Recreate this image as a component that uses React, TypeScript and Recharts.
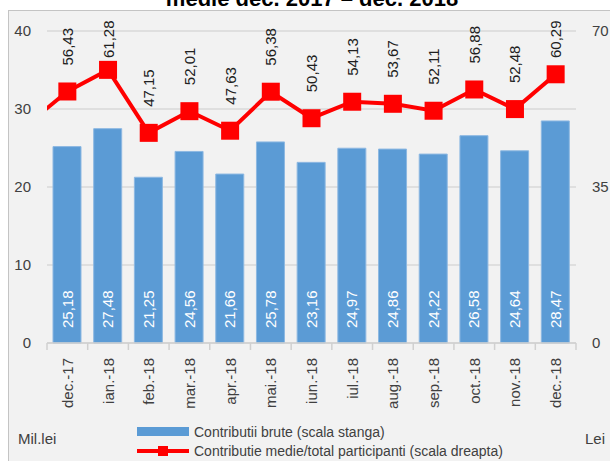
import React from 'react';
import { ComposedChart, Bar, Line, XAxis, YAxis, CartesianGrid, LabelList } from 'recharts';

const months = ['dec.-17', 'ian.-18', 'feb.-18', 'mar.-18', 'apr.-18', 'mai.-18', 'iun.-18', 'iul.-18', 'aug.-18', 'sep.-18', 'oct.-18', 'nov.-18', 'dec.-18'];
const contributiiBrute = [25.18, 27.48, 21.25, 24.56, 21.66, 25.78, 23.16, 24.97, 24.86, 24.22, 26.58, 24.64, 28.47];
const contributieMedie = [56.43, 61.28, 47.15, 52.01, 47.63, 56.38, 50.43, 54.13, 53.67, 52.11, 56.88, 52.48, 60.29];
const prevMonthMedie = 48.9; // nov.-17, off chart: only the segment entering from the left shows
const leftTicks = [0, 10, 20, 30, 40];
const rightTicks = [0, 35, 70];
const titleText = 'medie dec. 2017 \u2013 dec. 2018';
const barSeriesName = 'Contributii brute (scala stanga)';
const lineSeriesName = 'Contributie medie/total participanti (scala dreapta)';
const leftUnit = 'Mil.lei';
const rightUnit = 'Lei';

const data = months.map((m, i) => ({ m, brute: contributiiBrute[i], medie: contributieMedie[i] }));
const extData = [
  { i: -1, v: prevMonthMedie },
  { i: 0, v: contributieMedie[0] },
];

const FONT = '"Liberation Sans", Arial, sans-serif';
const W = 610;
const H = 461;
const LEFT_W = 47;
const RIGHT_W = 34;
const TOP = 31;
const XAXIS_H = 118;
const PLOT_W = W - LEFT_W - RIGHT_W;
const BAND = PLOT_W / months.length;
const TEXT = '#404040';
const BLUE = '#5b9bd5';
const RED = '#ff0000';

const fmt = (v: number) => v.toFixed(2).replace('.', ',');

const XTick = (props: any) => {
  const { x, y, payload, index } = props;
  const ly = y + 15;
  return (
    <g>
      <line x1={x - BAND / 2} x2={x - BAND / 2} y1={y} y2={y + 7} stroke="#d0d0d0" strokeWidth={1.5} />
      {index === months.length - 1 && (
        <line x1={x + BAND / 2} x2={x + BAND / 2} y1={y} y2={y + 7} stroke="#d0d0d0" strokeWidth={1.5} />
      )}
      <text
        x={x}
        y={ly}
        transform={`rotate(-90 ${x} ${ly})`}
        textAnchor="end"
        dominantBaseline="central"
        fontSize={15}
        fontFamily={FONT}
        fill={TEXT}
      >
        {payload.value}
      </text>
    </g>
  );
};

const BarLabel = (p: any) => {
  const { x, y, width, height, value } = p;
  const cx = x + width / 2;
  const by = y + height - 15;
  return (
    <text
      x={cx}
      y={by}
      transform={`rotate(-90 ${cx} ${by})`}
      textAnchor="start"
      dominantBaseline="central"
      fill="#ffffff"
      fontSize={15}
      fontFamily={FONT}
    >
      {fmt(value)}
    </text>
  );
};

const LineLabel = (p: any) => {
  const { x, y, value } = p;
  const by = Math.max(y - 26, 58);
  return (
    <text
      x={x}
      y={by}
      transform={`rotate(-90 ${x} ${by})`}
      textAnchor="start"
      dominantBaseline="central"
      fill="#202020"
      fontSize={15}
      fontFamily={FONT}
    >
      {fmt(value)}
    </text>
  );
};

const SquareDot = (p: any) => {
  const { cx, cy, index } = p;
  if (cx == null || cy == null) return <g key={`d${index}`} />;
  return <rect key={`d${index}`} x={cx - 9} y={cy - 9} width={18} height={18} fill={RED} />;
};

export default function App() {
  return (
    <div style={{ position: 'absolute', left: 0, top: 0, width: W, height: H, background: '#ffffff', overflow: 'hidden' }}>
      <div
        style={{
          position: 'absolute',
          left: 8,
          top: 10,
          width: W - 8,
          height: H - 10,
          background: '#f2f2f2',
          borderTop: '1px solid #c4c4c4',
          borderLeft: '1px solid #c4c4c4',
          boxSizing: 'border-box',
        }}
      />
      <div style={{ position: 'absolute', left: 0, top: 0 }}>
        <ComposedChart
          width={W}
          height={H}
          data={data}
          margin={{ top: TOP, right: 0, bottom: 0, left: 0 }}
          barCategoryGap={0}
        >
          <CartesianGrid yAxisId="left" vertical={false} stroke="#d9d9d9" strokeWidth={1.5} />
          <XAxis
            dataKey="m"
            height={XAXIS_H}
            interval={0}
            tickLine={false}
            tickSize={0}
            tickMargin={0}
            axisLine={{ stroke: '#d0d0d0', strokeWidth: 1.5 }}
            tick={<XTick />}
          />
          <XAxis xAxisId="ext" type="number" dataKey="i" domain={[-0.5, months.length - 0.5]} allowDataOverflow hide />
          <YAxis
            yAxisId="left"
            width={LEFT_W}
            domain={[0, 40]}
            ticks={leftTicks}
            axisLine={false}
            tickLine={false}
            tickSize={0}
            tickMargin={16}
            tick={{ fontSize: 15, fontFamily: FONT, fill: TEXT }}
          />
          <YAxis
            yAxisId="right"
            orientation="right"
            width={RIGHT_W}
            domain={[0, 70]}
            ticks={rightTicks}
            axisLine={false}
            tickLine={false}
            tickSize={0}
            tickMargin={16}
            tick={{ fontSize: 15, fontFamily: FONT, fill: TEXT }}
          />
          <Bar
            yAxisId="left"
            dataKey="brute"
            name={barSeriesName}
            barSize={28}
            fill={BLUE}
            stroke="#8db8e2"
            strokeWidth={1}
            isAnimationActive={false}
          >
            <LabelList dataKey="brute" content={<BarLabel />} />
          </Bar>
          <Line
            xAxisId="ext"
            yAxisId="right"
            data={extData}
            dataKey="v"
            stroke={RED}
            strokeWidth={4}
            dot={false}
            activeDot={false}
            isAnimationActive={false}
            legendType="none"
          />
          <Line
            yAxisId="right"
            dataKey="medie"
            name={lineSeriesName}
            stroke={RED}
            strokeWidth={4}
            dot={<SquareDot />}
            activeDot={false}
            isAnimationActive={false}
          >
            <LabelList dataKey="medie" content={<LineLabel />} />
          </Line>
        </ComposedChart>
      </div>
      <svg width={W} height={H} style={{ position: 'absolute', left: 0, top: 0, pointerEvents: 'none' }}>
        <text x={312} y={6} textAnchor="middle" fontSize={22} fontWeight="bold" fontFamily={FONT} fill="#000">
          {titleText}
        </text>
        <text x={18} y={438} dominantBaseline="central" fontSize={15} fontFamily={FONT} fill={TEXT}>
          {leftUnit}
        </text>
        <text x={585} y={438} dominantBaseline="central" fontSize={15} fontFamily={FONT} fill={TEXT}>
          {rightUnit}
        </text>
        <rect x={137} y={427} width={52} height={9} fill={BLUE} />
        <text x={194} y={432} dominantBaseline="central" fontSize={14} fontFamily={FONT} fill={TEXT}>
          {barSeriesName}
        </text>
        <line x1={137} x2={189} y1={451} y2={451} stroke={RED} strokeWidth={4} />
        <rect x={158} y={446} width={10} height={10} fill={RED} />
        <text x={194} y={451} dominantBaseline="central" fontSize={14} fontFamily={FONT} fill={TEXT}>
          {lineSeriesName}
        </text>
      </svg>
    </div>
  );
}
